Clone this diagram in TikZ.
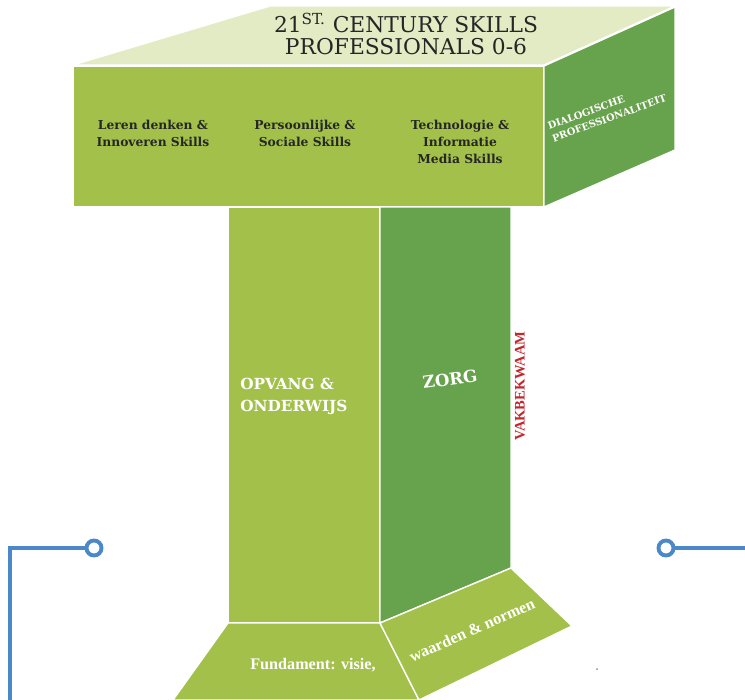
\documentclass[tikz,border=0pt]{standalone}
\usepackage{fontspec}
\setmainfont{DejaVu Serif}
\newfontfamily\slimfont{Liberation Serif}
\usepackage{tikz}
\usetikzlibrary{positioning}
\definecolor{topgreen}{HTML}{E2EBC4}
\definecolor{leafgreen}{HTML}{A3C14A}
\definecolor{mossgreen}{HTML}{67A24C}
\definecolor{linkblue}{HTML}{4A88C9}
\definecolor{skillred}{HTML}{C1272D}
\tikzset{
 face/.style={draw=white, line width=0.8pt, line join=round},
 skill/.style={align=center, text=black!85, font=\fontsize{7}{9.6}\selectfont\bfseries},
 pillar/.style={text=white, font=\fontsize{8.7}{12.5}\selectfont\bfseries},
 ground/.style={text=white, font=\slimfont\fontsize{9.2}{11}\selectfont\bfseries},
 link/.style={draw=linkblue, line width=2.2pt},
 ring/.style={circle, draw=linkblue, fill=white, line width=2.2pt, minimum size=0.3cm, inner sep=0pt}
}

\begin{document}
\begin{tikzpicture}[x=0.02cm, y=-0.02cm]
 \useasboundingbox (0, 0) rectangle (745, 700);
 \path [face, fill=topgreen] (73, 65) -- (544, 65) -- (675, 6) -- (270, 6) -- cycle;
 \path [face, fill=leafgreen] (73, 66) rectangle (544, 207);
 \path [face, fill=mossgreen] (544, 66) -- (675, 7) -- (675, 150) -- (544, 207) -- cycle;
 \path [face, fill=leafgreen] (228, 207) rectangle (380, 623);
 \path [face, fill=mossgreen] (380, 207) -- (511, 207) -- (511, 568) -- (380, 623) -- cycle;
 \path [face, fill=leafgreen] (228, 623) -- (380, 623) -- (419, 700) -- (173, 700) -- cycle;
 \path [face, fill=leafgreen] (380, 623) -- (511, 568) -- (572, 626) -- (419, 700) -- cycle;

 \node [align=center, text=black!85, font=\fontsize{12.4}{12.3}\selectfont] (title) at (406, 34) {21\textsuperscript{ST.} CENTURY SKILLS\\PROFESSIONALS 0-6};
 \node [skill] (denken) at (153, 133) {Leren denken \&\\Innoveren Skills};
 \node [skill] (sociaal) at (305, 133) {Persoonlijke \&\\Sociale Skills};
 \node [skill] (media) at (460, 142) {Technologie \&\\Informatie\\Media Skills};
 \node [align=left, rotate=20, text=white, font=\fontsize{5.6}{7.5}\selectfont\bfseries] (dialoog) at (607, 112) {DIALOGISCHE\\PROFESSIONALITEIT};

 \node [pillar, align=left, anchor=west, inner sep=0pt] (opvang) at (240, 396) {OPVANG \&\\ONDERWIJS};
 \node [pillar, rotate=8, font=\fontsize{9.5}{12}\selectfont\bfseries] (zorg) at (450, 379) {ZORG};
 \node [rotate=90, text=skillred, font=\slimfont\fontsize{8.3}{10}\selectfont\bfseries] (vak) at (520, 386) {VAKBEKWAAM};

 \node [ground] (fundament) at (313, 665) {Fundament: visie,};
 \node [ground, rotate=24] (waarden) at (472, 630) {waarden \& normen};
 \fill [black!45] (597, 669) circle (1);

 \node [ring] (ringL) at (94, 548) {};
 \node [ring] (ringR) at (666, 548) {};
 \coordinate (footL) at (10, 700);
 \coordinate (endR) at (745, 548);
 \draw [link] (footL) |- (ringL);
 \draw [link] (ringR) -- (endR);
\end{tikzpicture}
\end{document}
